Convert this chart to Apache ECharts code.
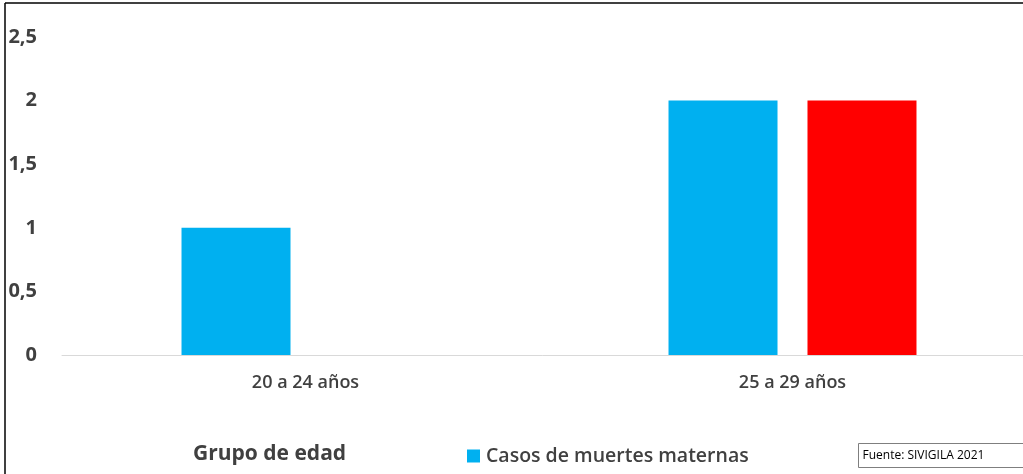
<!DOCTYPE html>
<html>
<head>
<meta charset="utf-8">
<script src="https://cdn.jsdelivr.net/npm/echarts@6/dist/echarts.min.js"></script>
<style>
  html, body { margin: 0; padding: 0; background: #fff; }
  #chart { width: 1023px; height: 474px; }
</style>
</head>
<body>
<div id="chart"></div>
<script>
// datos
var categories = ["20 a 24 años", "25 a 29 años"];
var casosMuertes = [1, 2];
var otraSerie = [null, 2];
var yTicks = [0, 0.5, 1, 1.5, 2, 2.5];

var textColor = "#404040";
var font = "'Open Sans', 'Noto Sans', sans-serif";

var chart = echarts.init(document.getElementById("chart"));

var option = {
  animation: false,
  grid: {
    left: 62,
    width: 974,
    top: 37,
    bottom: 119,
    containLabel: false,
    outerBoundsMode: "none"
  },
  legend: {
    data: ["Casos de muertes maternas"],
    left: 462,
    top: 441,
    itemWidth: 13,
    itemHeight: 13,
    itemGap: 6,
    icon: "rect",
    selectedMode: false,
    textStyle: {
      color: textColor,
      fontFamily: font,
      fontSize: 19.5,
      fontWeight: 600,
      padding: [0, 0, 0, 1]
    }
  },
  xAxis: {
    type: "category",
    data: categories,
    axisLine: { lineStyle: { color: "#d9d9d9", width: 1 } },
    axisTick: { show: false },
    axisLabel: {
      color: textColor,
      fontFamily: font,
      fontSize: 18,
      fontWeight: 600,
      margin: 19
    }
  },
  yAxis: {
    type: "value",
    min: 0,
    max: yTicks[yTicks.length - 1],
    interval: 0.5,
    splitLine: { show: false },
    axisLine: { show: false },
    axisTick: { show: false },
    axisLabel: {
      color: textColor,
      fontFamily: font,
      fontSize: 20,
      fontWeight: "bold",
      margin: 25,
      formatter: function (v) {
        return String(v).replace(".", ",");
      }
    }
  },
  series: [
    {
      name: "Casos de muertes maternas",
      type: "bar",
      data: casosMuertes,
      barWidth: 109,
      barGap: "27.5%",
      itemStyle: { color: "#00b0f0" }
    },
    {
      name: "Serie 2",
      type: "bar",
      data: otraSerie,
      barWidth: 109,
      itemStyle: { color: "#ff0000" }
    }
  ],
  graphic: [
    // borde izquierdo y superior
    {
      type: "line",
      shape: { x1: 5, y1: 3, x2: 5, y2: 474 },
      style: { stroke: "#000", lineWidth: 1.5 }
    },
    {
      type: "line",
      shape: { x1: 5, y1: 3, x2: 1023, y2: 3 },
      style: { stroke: "#000", lineWidth: 1.5 }
    },
    {
      type: "text",
      left: 193,
      top: 444,
      style: {
        text: "Grupo de edad",
        fill: textColor,
        font: "bold 21px " + font
      }
    },
    {
      type: "group",
      left: 858,
      top: 443,
      children: [
        {
          type: "rect",
          shape: { x: 0, y: 0, width: 170, height: 24 },
          style: { fill: "#fff", stroke: "#7f7f7f", lineWidth: 1 }
        },
        {
          type: "text",
          x: 4,
          y: 12,
          style: {
            text: "Fuente: SIVIGILA 2021",
            fill: "#000",
            font: "12px " + font,
            verticalAlign: "middle"
          }
        }
      ]
    }
  ]
};

chart.setOption(option);
</script>
</body>
</html>
